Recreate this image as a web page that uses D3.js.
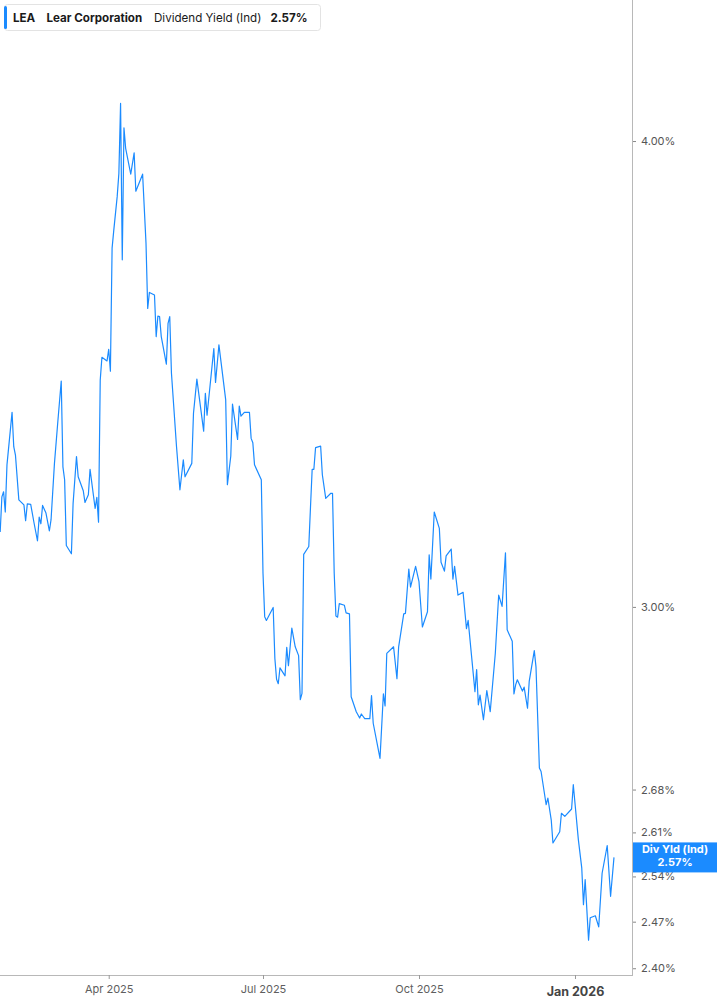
<!DOCTYPE html>
<html>
<head>
<meta charset="utf-8">
<script src="https://cdn.jsdelivr.net/npm/d3@7/dist/d3.min.js"></script>
<style>
  html, body { margin: 0; padding: 0; background: #fff; }
  svg { display: block; font-family: Inter, "Noto Sans", sans-serif; }
</style>
</head>
<body>
<svg id="chart" width="717" height="1005"></svg>
<script>
// ---------- DATA ----------
const dates = [
"2025-01-27","2025-01-28","2025-01-29","2025-01-30","2025-01-31","2025-02-03","2025-02-04","2025-02-05","2025-02-07","2025-02-10",
"2025-02-11","2025-02-12","2025-02-14","2025-02-16","2025-02-18","2025-02-19","2025-02-20","2025-02-21","2025-02-23","2025-02-25",
"2025-02-26","2025-02-28","2025-03-02","2025-03-04","2025-03-05","2025-03-06","2025-03-07","2025-03-10","2025-03-11","2025-03-13",
"2025-03-14","2025-03-17","2025-03-18","2025-03-20","2025-03-21","2025-03-24","2025-03-25","2025-03-26","2025-03-27","2025-03-28",
"2025-03-31","2025-04-01","2025-04-02","2025-04-03","2025-04-04","2025-04-06","2025-04-07","2025-04-08","2025-04-09","2025-04-10",
"2025-04-11","2025-04-14","2025-04-16","2025-04-17","2025-04-21","2025-04-23","2025-04-24","2025-04-25","2025-04-28","2025-04-29",
"2025-04-30","2025-05-01","2025-05-02","2025-05-05","2025-05-06","2025-05-07","2025-05-08","2025-05-11","2025-05-13","2025-05-15",
"2025-05-16","2025-05-20","2025-05-21","2025-05-23","2025-05-27","2025-05-28","2025-05-29","2025-06-02","2025-06-03","2025-06-05",
"2025-06-09","2025-06-10","2025-06-12","2025-06-13","2025-06-16","2025-06-17","2025-06-18","2025-06-20","2025-06-23","2025-06-24",
"2025-06-25","2025-06-26","2025-06-30","2025-07-01","2025-07-02","2025-07-03","2025-07-07","2025-07-08","2025-07-09","2025-07-10",
"2025-07-11","2025-07-14","2025-07-15","2025-07-16","2025-07-18","2025-07-20","2025-07-22","2025-07-23","2025-07-24","2025-07-25",
"2025-07-28","2025-07-29","2025-07-30","2025-07-31","2025-08-01","2025-08-04","2025-08-05","2025-08-07","2025-08-10","2025-08-11",
"2025-08-12","2025-08-13","2025-08-14","2025-08-15","2025-08-18","2025-08-19","2025-08-21","2025-08-22","2025-08-25","2025-08-27",
"2025-08-28","2025-08-30","2025-09-02","2025-09-03","2025-09-04","2025-09-08","2025-09-10","2025-09-11","2025-09-12","2025-09-16",
"2025-09-18","2025-09-19","2025-09-22","2025-09-23","2025-09-25","2025-09-26","2025-09-29","2025-10-01","2025-10-03","2025-10-06",
"2025-10-07","2025-10-08","2025-10-10","2025-10-13","2025-10-14","2025-10-16","2025-10-17","2025-10-20","2025-10-21","2025-10-22",
"2025-10-24","2025-10-27","2025-10-29","2025-10-30","2025-11-03","2025-11-04","2025-11-05","2025-11-06","2025-11-08","2025-11-10",
"2025-11-12","2025-11-15","2025-11-17","2025-11-19","2025-11-21","2025-11-22","2025-11-25","2025-11-26","2025-11-27","2025-11-28",
"2025-12-01","2025-12-02","2025-12-04","2025-12-05","2025-12-08","2025-12-09","2025-12-11","2025-12-12","2025-12-15","2025-12-16",
"2025-12-18","2025-12-19","2025-12-23","2025-12-24","2025-12-26","2025-12-30","2025-12-31","2026-01-03","2026-01-05","2026-01-06",
"2026-01-07","2026-01-09","2026-01-10","2026-01-13","2026-01-15","2026-01-17","2026-01-20","2026-01-22","2026-01-24"
];
const yields = [
3.142,3.211,3.221,3.181,3.275,3.383,3.312,3.295,3.205,3.195,
3.164,3.197,3.196,3.159,3.125,3.171,3.158,3.194,3.179,3.144,
3.166,3.278,3.364,3.449,3.271,3.245,3.116,3.100,3.198,3.292,
3.251,3.223,3.200,3.215,3.266,3.188,3.210,3.161,3.451,3.500,
3.492,3.517,3.470,3.744,3.786,3.865,3.921,4.094,3.717,4.033,
3.982,3.919,3.971,3.878,3.919,3.755,3.607,3.643,3.637,3.545,
3.590,3.589,3.545,3.485,3.574,3.589,3.466,3.312,3.225,3.285,
3.251,3.278,3.381,3.453,3.344,3.423,3.377,3.519,3.446,3.527,
3.409,3.235,3.293,3.400,3.327,3.396,3.375,3.383,3.383,3.329,
3.320,3.275,3.245,3.063,2.982,2.975,2.999,2.906,2.869,2.861,
2.889,2.875,2.926,2.893,2.961,2.927,2.911,2.833,2.844,3.099,
3.114,3.190,3.266,3.266,3.310,3.313,3.255,3.208,3.218,3.218,
3.063,2.983,2.981,3.006,3.003,2.989,2.987,2.838,2.812,2.801,
2.808,2.800,2.800,2.840,2.792,2.732,2.843,2.822,2.915,2.927,
2.870,2.927,2.987,2.988,3.071,3.037,3.076,3.047,2.963,2.991,
3.098,3.052,3.181,3.149,3.084,3.067,3.096,3.109,3.052,3.076,
3.022,3.027,2.960,2.975,2.847,2.886,2.824,2.841,2.798,2.849,
2.812,2.915,3.022,3.001,3.102,2.958,2.937,2.843,2.859,2.868,
2.848,2.855,2.818,2.865,2.920,2.891,2.716,2.710,2.655,2.666,
2.630,2.593,2.611,2.641,2.636,2.648,2.688,2.598,2.553,2.496,
2.535,2.442,2.476,2.479,2.462,2.545,2.589,2.509,2.570
];
const yTickValues = [2.40, 2.47, 2.54, 2.61, 2.68, 3.00, 4.00];
const xTickDates = ["2025-04-01","2025-07-01","2025-10-01","2026-01-01"];
const xTickLabels = ["Apr 2025","Jul 2025","Oct 2025","Jan 2026"];
const ticker = "LEA";
const company = "Lear Corporation";
const metric = "Dividend Yield (Ind)";
const lastValueLabel = "2.57%";
const badgeTitle = "Div Yld (Ind)";

// ---------- SETUP ----------
const parse = d3.timeParse("%Y-%m-%d");
const series = dates.map((d, i) => ({ date: parse(d), v: yields[i] }));

const W = 717, H = 1005;
const plotRight = 632, plotBottom = 975;
const blue = "#1b8bff";

const svg = d3.select("#chart");

const x = d3.scaleTime()
  .domain([new Date(2025, 0, 26, 21, 20), new Date(2026, 1, 3, 15, 0)])
  .range([0, plotRight]);

const y = d3.scaleLog()
  .domain([2.39, 4.364])
  .range([plotBottom, 0]);

// Axis frame lines
svg.append("line")
  .attr("x1", plotRight + 0.5).attr("x2", plotRight + 0.5)
  .attr("y1", 0).attr("y2", plotBottom)
  .attr("stroke", "#b8b8b8").attr("stroke-width", 1);
svg.append("line")
  .attr("x1", 0).attr("x2", plotRight + 1)
  .attr("y1", plotBottom + 0.5).attr("y2", plotBottom + 0.5)
  .attr("stroke", "#b8b8b8").attr("stroke-width", 1.2);

// Y axis (right)
const yAxis = d3.axisRight(y)
  .tickValues(yTickValues)
  .tickSize(3)
  .tickPadding(5)
  .tickFormat(d => d3.format(".2f")(d) + "%");
const gy = svg.append("g")
  .attr("transform", `translate(${plotRight + 1},0)`)
  .call(yAxis);
gy.select(".domain").remove();
gy.selectAll(".tick line").attr("stroke", "#888");
gy.selectAll(".tick text")
  .attr("fill", "#555")
  .style("font-size", "11px")
  .style("font-family", "Inter, sans-serif");

// X axis
const xAxis = d3.axisBottom(x)
  .tickValues(xTickDates.map(parse))
  .tickSize(4)
  .tickPadding(6)
  .tickFormat((d, i) => xTickLabels[i]);
const gx = svg.append("g")
  .attr("transform", `translate(0,${plotBottom})`)
  .call(xAxis);
gx.select(".domain").remove();
gx.selectAll(".tick line").attr("stroke", "#999");
gx.selectAll(".tick text")
  .attr("fill", "#5e5e5e")
  .style("font-size", "11px")
  .style("font-family", "Inter, sans-serif")
  .attr("dy", "0.71em");
gx.selectAll(".tick text")
  .filter((d, i) => xTickLabels[i].startsWith("Jan"))
  .attr("fill", "#444")
  .attr("dy", "0.85em")
  .style("font-size", "12.5px")
  .style("font-weight", "700");

// Line
const line = d3.line()
  .x(d => x(d.date))
  .y(d => y(d.v));
svg.append("path")
  .datum(series)
  .attr("fill", "none")
  .attr("stroke", blue)
  .attr("stroke-width", 1.2)
  .attr("stroke-linejoin", "round")
  .attr("d", line);

// Last value badge
const lastV = yields[yields.length - 1];
const by = y(lastV);
const badge = svg.append("g");
badge.append("rect")
  .attr("x", plotRight + 1).attr("y", by - 15)
  .attr("width", W - plotRight - 1).attr("height", 30)
  .attr("fill", blue);
badge.append("text")
  .attr("x", (plotRight + W) / 2 + 0.5).attr("y", by - 4)
  .attr("text-anchor", "middle")
  .attr("fill", "#fff")
  .style("font-size", "11px").style("font-weight", "700")
  .text(badgeTitle);
badge.append("text")
  .attr("x", (plotRight + W) / 2 + 0.5).attr("y", by + 9)
  .attr("text-anchor", "middle")
  .attr("fill", "#fff")
  .style("font-size", "11px").style("font-weight", "700")
  .text(lastValueLabel);

// Header legend
const hdr = svg.append("g");
hdr.append("rect")
  .attr("x", 4.5).attr("y", 4.5).attr("width", 316).attr("height", 26)
  .attr("rx", 3).attr("fill", "#fff")
  .attr("stroke", "#e3e3e3");
hdr.append("rect")
  .attr("x", 4).attr("y", 6).attr("width", 3).attr("height", 23)
  .attr("rx", 1.5).attr("fill", blue);
const ht = [
  { t: ticker, x: 13, w: 700 },
  { t: company, x: 46.5, w: 700 },
  { t: metric, x: 154, w: 400 },
  { t: lastValueLabel, x: 270.5, w: 700 }
];
hdr.selectAll("text.h").data(ht).enter().append("text")
  .attr("class", "h")
  .attr("x", d => d.x).attr("y", 21.5)
  .attr("fill", "#1a1a1a")
  .style("font-size", "11.6px")
  .style("font-weight", d => d.w)
  .text(d => d.t);
</script>
</body>
</html>
